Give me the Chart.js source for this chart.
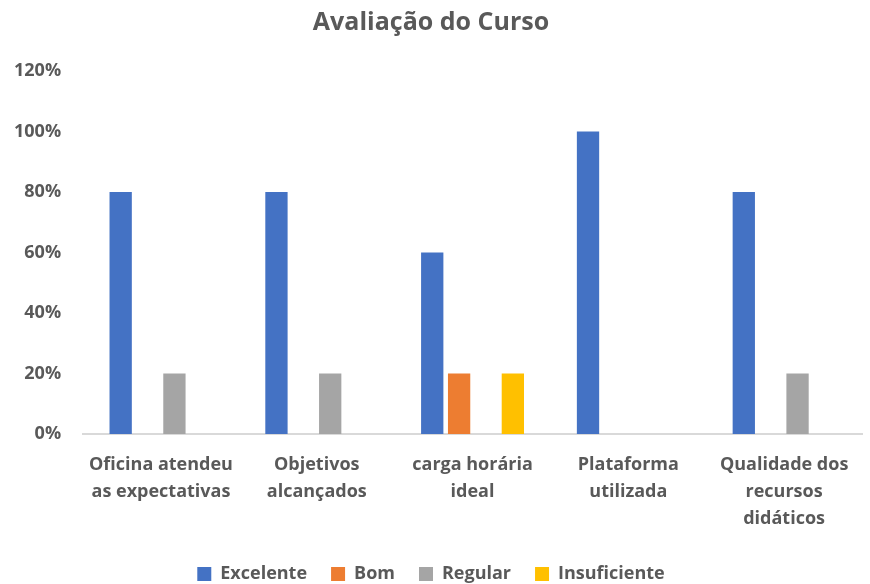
<!DOCTYPE html>
<html>
<head>
<meta charset="utf-8">
<script src="https://cdn.jsdelivr.net/npm/chart.js@4/dist/chart.umd.min.js"></script>
<style>
    body { margin: 0; background: #fff; }
    #wrap { width: 870px; height: 584px; }
</style>
</head>
<body>
<div id="wrap"><canvas id="grafico"></canvas></div>
<script>
const categorias = [
    ['Oficina atendeu', 'as expectativas'],
    ['Objetivos', 'alcançados'],
    ['carga horária', 'ideal'],
    ['Plataforma', 'utilizada'],
    ['Qualidade dos', 'recursos', 'didáticos']
];
const excelente = [0.8, 0.8, 0.6, 1.0, 0.8];
const bom = [0, 0, 0.2, 0, 0];
const regular = [0.2, 0.2, 0, 0, 0.2];
const insuficiente = [0, 0, 0.2, 0, 0];

const fonte = '"Open Sans", sans-serif';
const cinza = '#595959';

const ctx = document.getElementById('grafico').getContext('2d');
const grafico = new Chart(ctx, {
    type: 'bar',
    data: {
        labels: categorias,
        datasets: [
            { label: 'Excelente', data: excelente, backgroundColor: '#4472C4' },
            { label: 'Bom', data: bom, backgroundColor: '#ED7D31' },
            { label: 'Regular', data: regular, backgroundColor: '#A5A5A5' },
            { label: 'Insuficiente', data: insuficiente, backgroundColor: '#FFC000' }
        ]
    },
    options: {
        responsive: true,
        maintainAspectRatio: false,
        animation: false,
        datasets: {
            bar: { categoryPercentage: 0.69, barPercentage: 0.83 }
        },
        // fundo negativo: empurra a legenda um pouco para baixo
        layout: { padding: { left: 0, right: 8, top: 6, bottom: -9 } },
        plugins: {
            title: {
                display: true,
                text: 'Avaliação do Curso',
                color: cinza,
                font: { family: fonte, size: 25, weight: 'bold' },
                padding: { top: 2, bottom: 33 }
            },
            legend: {
                position: 'bottom',
                labels: {
                    color: cinza,
                    font: { family: fonte, size: 18, weight: 'bold' },
                    boxWidth: 14,
                    boxHeight: 14,
                    padding: 24
                }
            },
            tooltip: { enabled: false }
        },
        scales: {
            y: {
                min: 0,
                max: 1.2,
                ticks: {
                    stepSize: 0.2,
                    color: cinza,
                    padding: 14,
                    font: { family: fonte, size: 18, weight: 'bold' },
                    callback: function (v) { return Math.round(v * 100) + '%'; }
                },
                grid: { display: false },
                border: { display: false }
            },
            x: {
                ticks: {
                    color: cinza,
                    padding: 9,
                    maxRotation: 0,
                    font: { family: fonte, size: 18, weight: 'bold', lineHeight: 1.5 }
                },
                grid: { display: false },
                border: { display: true, color: '#D9D9D9', width: 2 }
            }
        }
    }
});
</script>
</body>
</html>
